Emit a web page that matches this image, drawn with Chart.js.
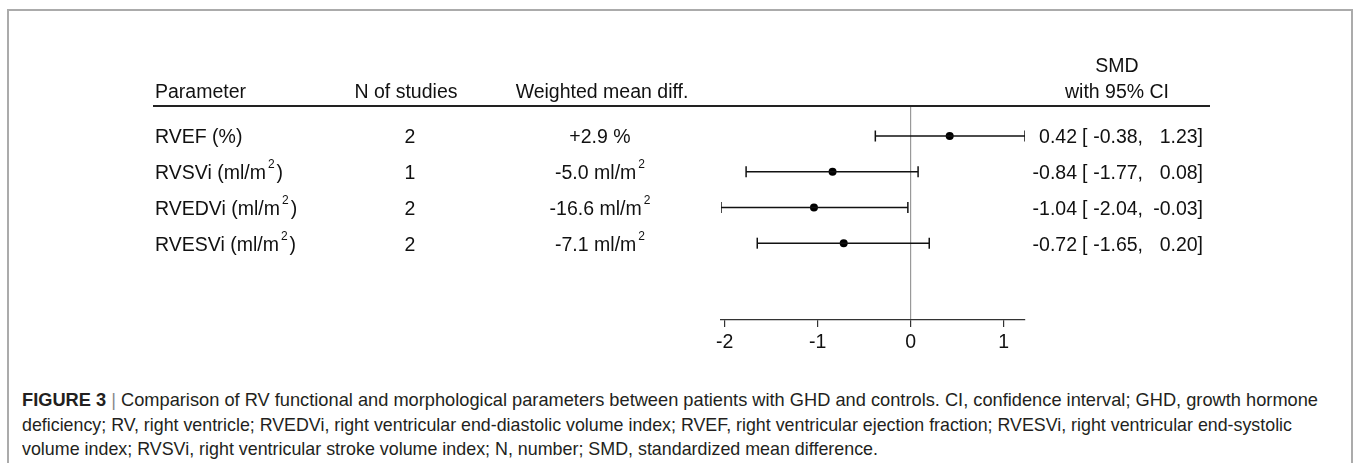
<!DOCTYPE html>
<html>
<head>
<meta charset="utf-8">
<script src="https://cdn.jsdelivr.net/npm/chart.js@4.4.0/dist/chart.umd.min.js"></script>
<style>
  html, body { margin:0; padding:0; background:#fff; width:1356px; height:463px; overflow:hidden; }
  #frame { position:absolute; left:7px; top:9px; width:1346px; height:520px; box-sizing:border-box;
           border:2px solid #ababab; border-bottom:none; }
  #wrap { position:absolute; left:0; top:0; width:1356px; height:370px; }
  #caption { position:absolute; left:22px; top:388px; font-family:"Liberation Sans",Arial,sans-serif;
             font-size:19px; line-height:24.5px; color:#231f20; white-space:nowrap; }
  #caption div { display:block; width:max-content; transform-origin:0 50%; }
  #caption b { font-weight:bold; }
  #caption .bar { color:#888; }
</style>
</head>
<body>
<div id="frame"></div>
<div id="wrap"><canvas id="c" width="1356" height="370"></canvas></div>
<div id="caption">
  <div data-w="1296"><b>FIGURE 3</b> <span class="bar">|</span> Comparison of RV functional and morphological parameters between patients with GHD and controls. CI, confidence interval; GHD, growth hormone</div>
  <div data-w="1270">deficiency; RV, right ventricle; RVEDVi, right ventricular end-diastolic volume index; RVEF, right ventricular ejection fraction; RVESVi, right ventricular end-systolic</div>
  <div data-w="856">volume index; RVSVi, right ventricular stroke volume index; N, number; SMD, standardized mean difference.</div>
</div>
<script>
const parameters   = ['RVEF (%)', 'RVSVi (ml/m^2)', 'RVEDVi (ml/m^2)', 'RVESVi (ml/m^2)'];
const nStudies     = [2, 1, 2, 2];
const weightedDiff = ['+2.9 %', '-5.0 ml/m^2', '-16.6 ml/m^2', '-7.1 ml/m^2'];
const smd          = [0.42, -0.84, -1.04, -0.72];
const ciLow        = [-0.38, -1.77, -2.04, -1.65];
const ciHigh       = [1.23, 0.08, -0.03, 0.20];
const xTicks       = [-2, -1, 0, 1];
const headers      = ['Parameter', 'N of studies', 'Weighted mean diff.', 'SMD', 'with 95% CI'];

document.querySelectorAll('#caption div').forEach(function (d) {
  const w = d.getBoundingClientRect().width;
  const sx = (+d.dataset.w) / w;
  d.style.transform = 'scaleX(' + sx.toFixed(4) + ')';
});

const FONT = '"Liberation Sans", Arial, sans-serif';
const FS = 19.5;
const INK = '#111';
const TY = 2;

function drawRich(ctx, text, x, y, align) {
  const i = text.indexOf('^');
  ctx.textBaseline = 'middle';
  ctx.textAlign = 'left';
  y += TY;
  const main = FS + 'px ' + FONT, sup = '12px ' + FONT;
  if (i < 0) {
    ctx.font = main;
    const w = ctx.measureText(text).width;
    const x0 = align === 'center' ? x - w / 2 : (align === 'right' ? x - w : x);
    ctx.fillText(text, x0, y);
    return;
  }
  const a = text.slice(0, i), s = text.charAt(i + 1), b = text.slice(i + 2);
  ctx.font = main; const wa = ctx.measureText(a).width; const wb = ctx.measureText(b).width;
  ctx.font = sup; const ws = ctx.measureText(s).width;
  const gap = 2;
  const total = wa + gap + ws + (b ? gap : 0) + wb;
  let x0 = align === 'center' ? x - total / 2 : (align === 'right' ? x - total : x);
  ctx.font = main; ctx.fillText(a, x0, y);
  ctx.font = sup; ctx.fillText(s, x0 + wa + gap, y - 9);
  if (b) { ctx.font = main; ctx.fillText(b, x0 + wa + gap + ws + gap, y); }
}

const tablePlugin = {
  id: 'forestTable',
  afterDraw(chart) {
    const ctx = chart.ctx, ys = chart.scales.y;
    ctx.save();
    ctx.fillStyle = INK;
    drawRich(ctx, headers[0], 155, 91, 'left');
    drawRich(ctx, headers[1], 406, 91, 'center');
    drawRich(ctx, headers[2], 602, 91, 'center');
    drawRich(ctx, headers[3], 1117, 65, 'center');
    drawRich(ctx, headers[4], 1117, 91, 'center');
    ctx.strokeStyle = '#222'; ctx.lineWidth = 2;
    ctx.beginPath(); ctx.moveTo(153, 106); ctx.lineTo(1210, 106); ctx.stroke();
    ctx.fillStyle = INK;
    for (let r = 0; r < parameters.length; r++) {
      const y = ys.getPixelForValue(r + 1);
      drawRich(ctx, parameters[r], 155, y, 'left');
      drawRich(ctx, String(nStudies[r]), 410, y, 'center');
      drawRich(ctx, weightedDiff[r], 600, y, 'center');
      drawRich(ctx, smd[r].toFixed(2), 1077, y, 'right');
      drawRich(ctx, '[', 1082, y, 'left');
      drawRich(ctx, ciLow[r].toFixed(2) + ',', 1143, y, 'right');
      drawRich(ctx, ciHigh[r].toFixed(2) + ']', 1203, y, 'right');
    }
    ctx.restore();
  }
};

const datasets = [];
for (let r = 0; r < smd.length; r++) {
  datasets.push({
    data: [{x: ciLow[r], y: r + 1}, {x: ciHigh[r], y: r + 1}],
    showLine: true, borderColor: INK, borderWidth: 1.5,
    pointStyle: 'line', rotation: 90, pointRadius: 5.5,
    pointBorderColor: INK, pointBorderWidth: 1.5, pointBackgroundColor: INK
  });
}
datasets.push({
  data: smd.map((v, r) => ({x: v, y: r + 1})),
  showLine: false, pointStyle: 'circle', pointRadius: 4,
  pointBackgroundColor: '#000', pointBorderColor: '#000', pointBorderWidth: 0
});

new Chart(document.getElementById('c'), {
  type: 'scatter',
  data: { datasets },
  options: {
    responsive: false, animation: false, devicePixelRatio: 1,
    layout: { padding: { left: 721, right: 331, top: 106, bottom: 10 } },
    plugins: { legend: { display: false }, tooltip: { enabled: false } },
    scales: {
      x: {
        type: 'linear', min: -2.04, max: 1.23,
        afterFit(s) { s.height = 40; },
        afterBuildTicks(s) { s.ticks = xTicks.map(v => ({ value: v })); },
        border: { display: true, color: '#333', width: 1.2 },
        grid: {
          drawOnChartArea: true, drawTicks: true, tickLength: 7,
          color: c => (c.tick && c.tick.value === 0) ? '#999' : 'rgba(0,0,0,0)',
          tickColor: '#333', lineWidth: 1.2
        },
        ticks: { color: INK, padding: 4, font: { family: FONT, size: FS }, maxRotation: 0, autoSkip: false }
      },
      y: {
        type: 'linear', min: 0.16, max: 6.15, reverse: true, display: false
      }
    }
  },
  plugins: [tablePlugin]
});
</script>
</body>
</html>
